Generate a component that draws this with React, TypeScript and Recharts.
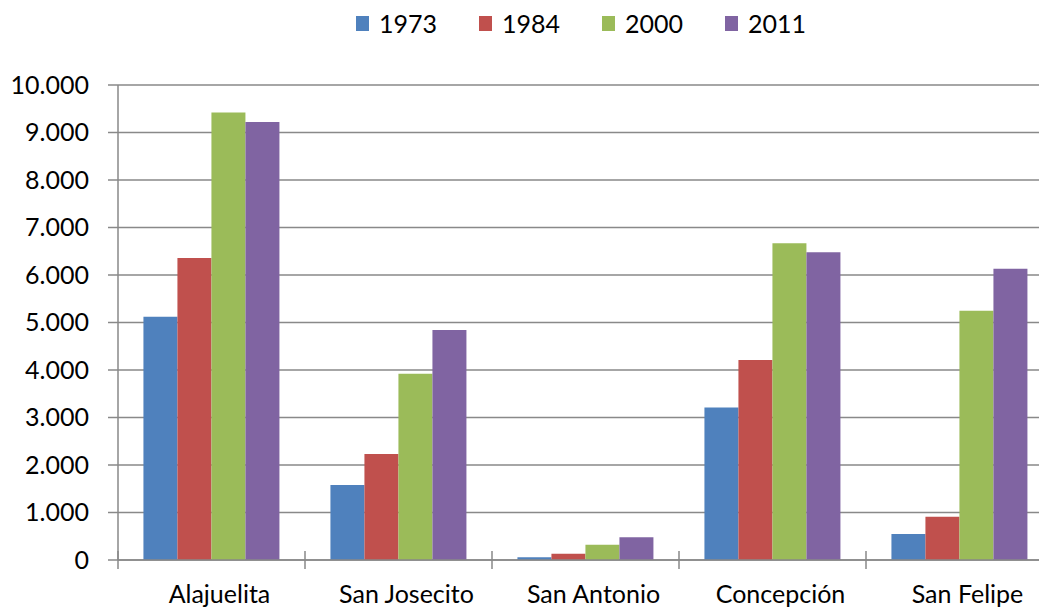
import React from "react";
import { BarChart, Bar, XAxis, YAxis, CartesianGrid, Legend } from "recharts";

const categories = ["Alajuelita", "San Josecito", "San Antonio", "Concepción", "San Felipe"];
const seriesNames = ["1973", "1984", "2000", "2011"];
const values1973 = [5120, 1580, 60, 3210, 550];
const values1984 = [6360, 2230, 130, 4210, 910];
const values2000 = [9420, 3920, 320, 6670, 5250];
const values2011 = [9220, 4840, 480, 6480, 6130];
const yTicks = [0, 1000, 2000, 3000, 4000, 5000, 6000, 7000, 8000, 9000, 10000];
const colors = ["#4F81BD", "#C0504D", "#9BBB59", "#8064A2"];

const data = categories.map((c, i) => ({
  name: c,
  "1973": values1973[i],
  "1984": values1984[i],
  "2000": values2000[i],
  "2011": values2011[i],
}));

const FONT = "Lato, 'Open Sans', sans-serif";
const GRID = "#898989";

const fmt = (v: number) => String(v).replace(/\B(?=(\d{3})+(?!\d))/g, ".");

const XTick = (props: any) => {
  const { x, y, payload, index, width } = props;
  const bw = (width || 935) / categories.length;
  const lines = [x - bw / 2];
  if (index === categories.length - 1) lines.push(x + bw / 2);
  return (
    <g>
      {lines.map((lx, k) => (
        <line key={k} x1={lx} x2={lx} y1={y - 9} y2={y + 9} stroke={GRID} strokeWidth={1.5} />
      ))}
      <text x={x + 8} y={y + 43} textAnchor="middle" fill="#000" fontSize={25} fontFamily={FONT}>
        {payload.value}
      </text>
    </g>
  );
};

const LegendContent = () => (
  <div
    style={{
      display: "flex",
      justifyContent: "center",
      alignItems: "center",
      height: 30,
      fontFamily: FONT,
      fontSize: 25,
      color: "#000",
      paddingLeft: 96,
    }}
  >
    {seriesNames.map((s, i) => (
      <div key={s} style={{ display: "flex", alignItems: "center", marginRight: i < seriesNames.length - 1 ? 42 : 0 }}>
        <span style={{ display: "inline-block", width: 13, height: 15, background: colors[i], marginRight: 10 }} />
        <span style={{ lineHeight: "30px" }}>{s}</span>
      </div>
    ))}
  </div>
);

export default function App() {
  return (
    <div style={{ width: 1039, height: 605, overflow: "hidden", background: "#fff" }}>
      <BarChart
        width={1050}
        height={605}
        data={data}
        margin={{ top: 47, right: 5, bottom: 13, left: 50 }}
        barCategoryGap="13.6%"
        barGap={0}
      >
        <CartesianGrid vertical={false} stroke={GRID} strokeWidth={1.5} />
        <Legend verticalAlign="top" wrapperStyle={{ top: 0, left: 0, width: 1050 }} content={<LegendContent />} />
        <XAxis
          dataKey="name"
          tickLine={false}
          tickSize={0}
          tickMargin={0}
          axisLine={{ stroke: GRID, strokeWidth: 1.5 }}
          tick={<XTick />}
          height={40}
          interval={0}
        />
        <YAxis
          domain={[0, 10000]}
          ticks={yTicks}
          interval={0}
          tickFormatter={fmt}
          width={60}
          tickSize={10}
          tickMargin={19}
          tickLine={{ stroke: GRID, strokeWidth: 1.5 }}
          axisLine={{ stroke: GRID, strokeWidth: 1.5 }}
          tick={{ fill: "#000", fontSize: 25, fontFamily: FONT }}
        />
        {seriesNames.map((s, i) => (
          <Bar key={s} dataKey={s} fill={colors[i]} isAnimationActive={false} />
        ))}
      </BarChart>
    </div>
  );
}
